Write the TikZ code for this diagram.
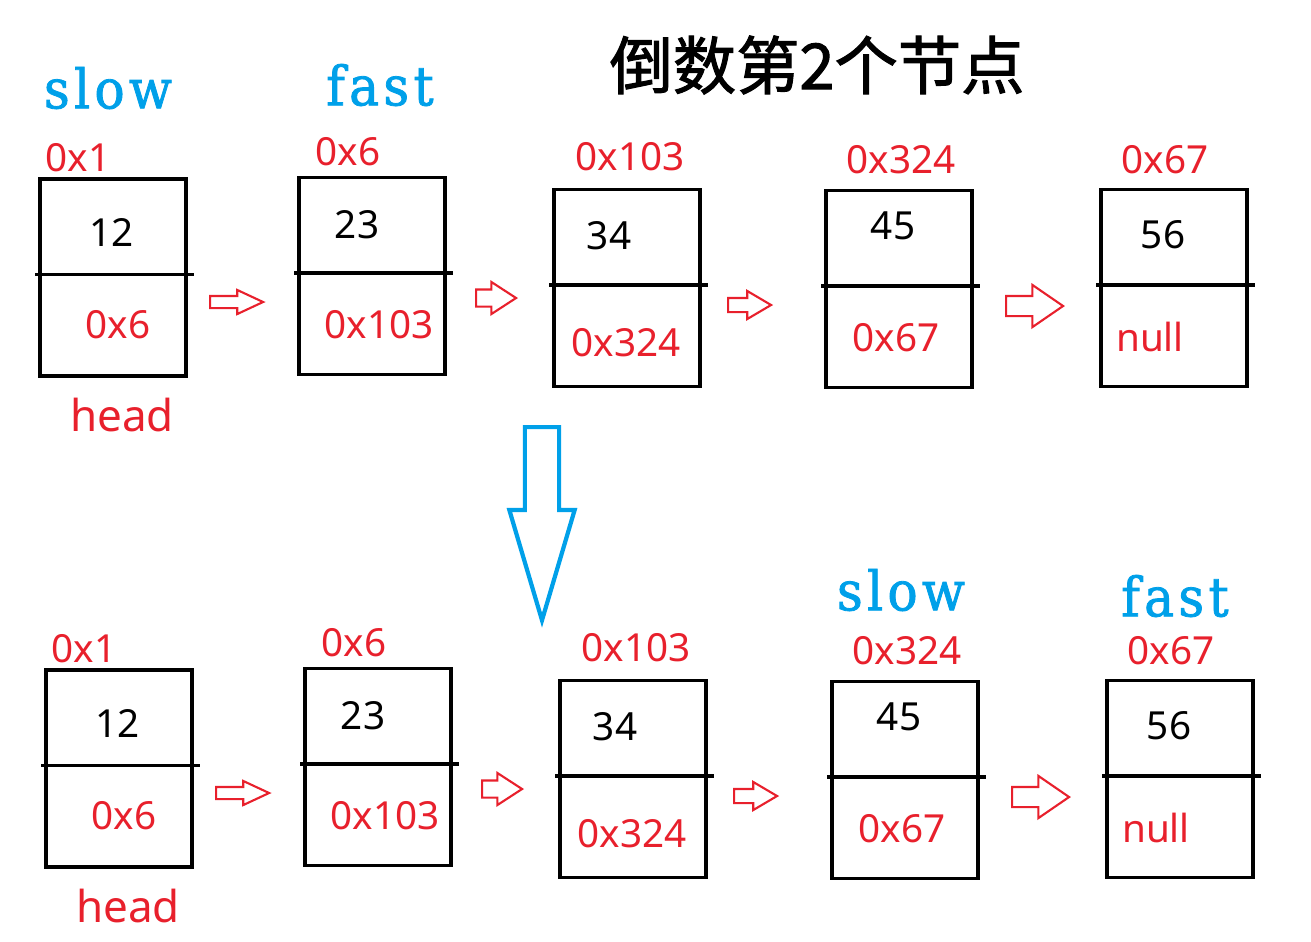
\documentclass[tikz,border=0pt]{standalone}
\usepackage{fontspec}
\setmainfont{Noto Sans}
\newfontfamily\cjk[FakeBold=1.6]{Noto Sans CJK SC}
\newfontfamily\ptrfont[FakeStretch=0.92,LetterSpace=8,FakeBold=1.5]{DejaVu Serif}
\usetikzlibrary{shapes.arrows,positioning,calc}
\definecolor{addrred}{RGB}{232,32,44}
\definecolor{ptrblue}{RGB}{0,160,233}
\tikzset{every picture/.style={line width=1pt}}
\tikzset{
  listnode/.style={draw, minimum width=1.46cm, minimum height=1.97cm, inner sep=0pt},
  addr/.style={text=addrred, inner sep=0pt, font=\fontsize{11}{12}\selectfont},
  val/.style={inner sep=0pt, font=\fontsize{11}{12}\selectfont},
  headlabel/.style={text=addrred, inner sep=0pt, font=\fontsize{12.5}{14}\selectfont},
  ptrlabel/.style={text=ptrblue, inner sep=0pt, font=\ptrfont\fontsize{15.5}{18}\selectfont},
  nextarrow/.style={single arrow, draw=addrred, line width=0.6pt, inner xsep=0pt, anchor=tail},
}

\begin{document}
\begin{tikzpicture}[x=0.01cm, y=-0.01cm]
    \useasboundingbox (0,0) rectangle (1311,941);

    % 标题
    \node[font=\cjk\fontsize{18}{20}\selectfont] (title) at (817,65) {倒数第2个节点};

    % 第一行：slow 在 head, fast 在第二个节点
    \node[ptrlabel] (slowA) at (108,88) {slow};
    \node[ptrlabel] (fastA) at (380,85) {fast};

    \node[listnode] (a1) at (113,277.5) {};
    \node[listnode] (a2) at (372,276) {};
    \node[listnode] (a3) at (627,288) {};
    \node[listnode] (a4) at (899,289) {};
    \node[listnode] (a5) at (1174,288) {};
    \foreach \n in {a1,a2,a3,a4,a5}
        \draw ([shift={(-3,-3)}]\n.west) -- ([shift={(6,-3)}]\n.east);

    \node[addr] (a1addr) at (78,158) {0x1};
    \node[val]  (a1val)  at (112,232) {12};
    \node[addr] (a1next) at (118,325) {0x6};
    \node[headlabel] (headA) at (122,415) {head};
    \node[addr] (a2addr) at (348,152) {0x6};
    \node[val]  (a2val)  at (357,225) {23};
    \node[addr] (a2next) at (379,325) {0x103};
    \node[addr] (a3addr) at (630,157) {0x103};
    \node[val]  (a3val)  at (609,236) {34};
    \node[addr] (a3next) at (626,343) {0x324};
    \node[addr] (a4addr) at (901,160) {0x324};
    \node[val]  (a4val)  at (893,226) {45};
    \node[addr] (a4next) at (896,338) {0x67};
    \node[addr] (a5addr) at (1165,160) {0x67};
    \node[val]  (a5val)  at (1163,235) {56};
    \node[addr] (a5next) at (1150,337) {null};

    % 空心箭头
    \node[nextarrow, minimum height=0.53cm, inner ysep=0.05cm, single arrow head extend=0.06cm, single arrow tip angle=50] (ar1) at (209,302) {};
    \node[nextarrow, minimum height=0.40cm, inner ysep=0.075cm, single arrow head extend=0.075cm, single arrow tip angle=66] (ar2) at (475,298) {};
    \node[nextarrow, minimum height=0.43cm, inner ysep=0.06cm, single arrow head extend=0.07cm, single arrow tip angle=61] (ar3) at (727,305) {};
    \node[nextarrow, minimum height=0.57cm, inner ysep=0.09cm, single arrow head extend=0.11cm, single arrow tip angle=69] (ar4) at (1005,306) {};

    % 向下的蓝色箭头
    \node[single arrow, draw=ptrblue, line width=1.2pt, inner xsep=0pt, inner ysep=0.15cm, rotate=-90, anchor=tail,
          minimum height=1.93cm, single arrow head extend=0.155cm,
          single arrow tip angle=33] (move) at (542,425) {};

    % 第二行：slow 在倒数第2个节点, fast 在最后一个节点
    \node[ptrlabel] (slowB) at (901,590) {slow};
    \node[ptrlabel] (fastB) at (1175,596) {fast};

    \node[listnode] (b1) at (119,768.5) {};
    \node[listnode] (b2) at (378,767) {};
    \node[listnode] (b3) at (633,779) {};
    \node[listnode] (b4) at (905,780) {};
    \node[listnode] (b5) at (1180,779) {};
    \foreach \n in {b1,b2,b3,b4,b5}
        \draw ([shift={(-3,-3)}]\n.west) -- ([shift={(6,-3)}]\n.east);

    \node[addr] (b1addr) at (84,649) {0x1};
    \node[val]  (b1val)  at (118,723) {12};
    \node[addr] (b1next) at (124,816) {0x6};
    \node[headlabel] (headB) at (128,906) {head};
    \node[addr] (b2addr) at (354,643) {0x6};
    \node[val]  (b2val)  at (363,716) {23};
    \node[addr] (b2next) at (385,816) {0x103};
    \node[addr] (b3addr) at (636,648) {0x103};
    \node[val]  (b3val)  at (615,727) {34};
    \node[addr] (b3next) at (632,834) {0x324};
    \node[addr] (b4addr) at (907,651) {0x324};
    \node[val]  (b4val)  at (899,717) {45};
    \node[addr] (b4next) at (902,829) {0x67};
    \node[addr] (b5addr) at (1171,651) {0x67};
    \node[val]  (b5val)  at (1169,726) {56};
    \node[addr] (b5next) at (1156,828) {null};

    \node[nextarrow, minimum height=0.53cm, inner ysep=0.05cm, single arrow head extend=0.06cm, single arrow tip angle=50] (br1) at (215,793) {};
    \node[nextarrow, minimum height=0.40cm, inner ysep=0.075cm, single arrow head extend=0.075cm, single arrow tip angle=66] (br2) at (481,789) {};
    \node[nextarrow, minimum height=0.43cm, inner ysep=0.06cm, single arrow head extend=0.07cm, single arrow tip angle=61] (br3) at (733,796) {};
    \node[nextarrow, minimum height=0.57cm, inner ysep=0.09cm, single arrow head extend=0.11cm, single arrow tip angle=69] (br4) at (1011,797) {};
\end{tikzpicture}
\end{document}
